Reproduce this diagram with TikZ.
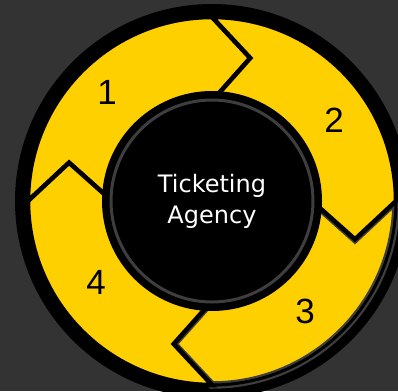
\documentclass[tikz,border=0pt]{standalone}
\usepackage{fontspec}
\setmainfont{DejaVu Sans}
\newfontfamily\numfont{Liberation Sans}
\definecolor{bg}{HTML}{333333}
\definecolor{yel}{HTML}{FFD000}
\definecolor{dgray}{HTML}{3E3E3E}
\tikzset{
  segpart/.style={fill=yel, draw=black, line width=4.5pt, line join=miter},
  numlabel/.style={font=\numfont\fontsize{35}{40}\selectfont, text=black, inner sep=0pt},
}
\begin{document}
\begin{tikzpicture}[x=1pt,y=1pt]
\fill[bg] (0,0) rectangle (398,-391);
\useasboundingbox (0,0) rectangle (398,-391);
\begin{scope}[shift={(212,-201)}]
  \fill[black] (0,0) circle (197);
  % segment 3 (gray outline)
  \pgfmathsetmacro{\sa}{0}\pgfmathsetmacro{\sb}{-90}\pgfmathsetmacro{\sc}{-105}\pgfmathsetmacro{\sd}{-15}
  \path[fill=yel, draw=dgray, line width=7.5pt, line join=miter]
    (\sa:184) arc[start angle=\sa, end angle=\sb, radius=184] -- (\sc:148) -- (\sb:100)
    arc[start angle=\sb, end angle=\sa, radius=100] -- (\sd:148) -- cycle;
  \path[draw=black, line width=3pt, line join=miter]
    (\sa:184) arc[start angle=\sa, end angle=\sb, radius=184] -- (\sc:148) -- (\sb:100)
    arc[start angle=\sb, end angle=\sa, radius=100] -- (\sd:148) -- cycle;
  \foreach \s in {180,90,-90}{
    \pgfmathsetmacro{\sa}{\s}\pgfmathsetmacro{\sb}{\s-90}\pgfmathsetmacro{\sc}{\s-105}\pgfmathsetmacro{\sd}{\s-15}
    \path[segpart]
      (\sa:184) arc[start angle=\sa, end angle=\sb, radius=184] -- (\sc:148) -- (\sb:100)
      arc[start angle=\sb, end angle=\sa, radius=100] -- (\sd:148) -- cycle;
  }
  \fill[black] (0,0) circle (110);
  \draw[dgray, line width=3pt] (0,0) circle (101);
\end{scope}
\node[align=center, text=white, font=\fontsize{24}{31}\selectfont] (title) at (212,-201) {Ticketing\\Agency};
\node[numlabel] (n1) at (107,-92) {1};
\node[numlabel] (n2) at (334,-120) {2};
\node[numlabel] (n3) at (305,-311) {3};
\node[numlabel] (n4) at (96,-282) {4};
\end{tikzpicture}
\end{document}
